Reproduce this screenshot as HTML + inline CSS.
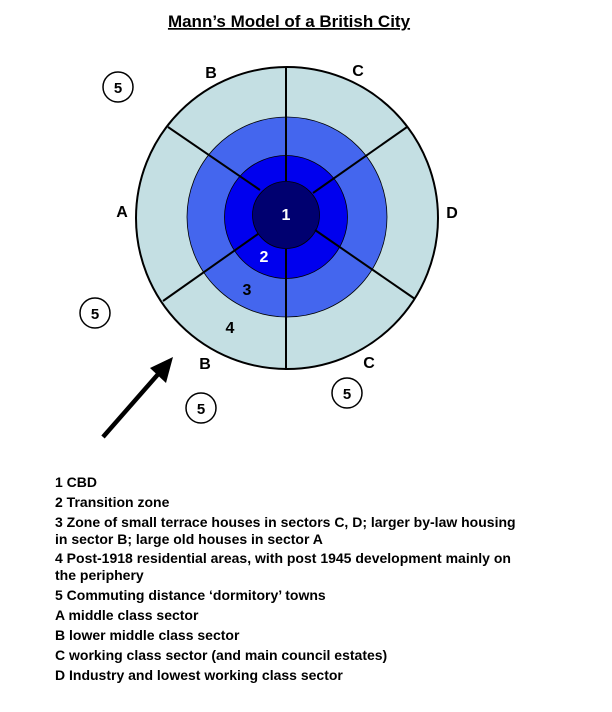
<!DOCTYPE html>
<html><head><style>
body{margin:0;background:#fff;width:612px;height:712px;overflow:hidden;font-family:"Liberation Sans",Arial,sans-serif}
.leg{position:absolute;left:55px;top:472px;font-size:14px;font-weight:bold;line-height:20px;color:#000;width:472px}
.leg div{margin:0}
.leg .two{line-height:17px;margin:2px 0 1px}
</style></head><body>
<svg width="612" height="712" style="position:absolute;left:0;top:0" font-family="Liberation Sans, Arial, sans-serif" font-weight="bold">
<text x="289" y="27" font-size="17" text-anchor="middle" text-decoration="underline">Mann’s Model of a British City</text>
<circle cx="287" cy="218" r="151" fill="#c4dfe3" stroke="#000" stroke-width="2"/>
<circle cx="287" cy="217" r="100" fill="#4466ee" stroke="#000" stroke-width="0.8"/>
<circle cx="286" cy="217" r="61.5" fill="#0000ee" stroke="#000" stroke-width="0.8"/>
<circle cx="286" cy="215" r="33.5" fill="#000070" stroke="#000" stroke-width="0.8"/>
<g stroke="#000" stroke-width="2">
<line x1="286" y1="67" x2="286" y2="181"/>
<line x1="286" y1="249" x2="286" y2="370"/>
<line x1="168" y1="127" x2="260" y2="190"/>
<line x1="407" y1="127" x2="313" y2="193"/>
<line x1="163" y1="301" x2="258" y2="234"/>
<line x1="415" y1="299" x2="315" y2="230"/>
</g>
<g font-size="16" text-anchor="middle">
<text x="286" y="220" fill="#fff">1</text>
<text x="264" y="262" fill="#fff">2</text>
<text x="247" y="295">3</text>
<text x="230" y="333">4</text>
<text x="211" y="78">B</text>
<text x="358" y="76">C</text>
<text x="122" y="217">A</text>
<text x="452" y="218">D</text>
<text x="205" y="369">B</text>
<text x="369" y="368">C</text>
</g>
<g fill="#fff" stroke="#000" stroke-width="1.5">
<circle cx="118" cy="87" r="15"/>
<circle cx="95" cy="313" r="15"/>
<circle cx="201" cy="408" r="15"/>
<circle cx="347" cy="393" r="15"/>
</g>
<g font-size="15" text-anchor="middle">
<text x="118" y="93">5</text>
<text x="95" y="319">5</text>
<text x="201" y="414">5</text>
<text x="347" y="399">5</text>
</g>
<line x1="103" y1="437" x2="160" y2="372" stroke="#000" stroke-width="4.5"/>
<polygon points="173,357 150,368 166,383" fill="#000"/>
</svg>
<div class="leg">
<div>1 CBD</div>
<div>2 Transition zone</div>
<div class="two">3 Zone of small terrace houses in sectors C, D; larger by-law housing in sector B; large old houses in sector A</div>
<div class="two">4 Post-1918 residential areas, with post 1945 development mainly on the periphery</div>
<div>5 Commuting distance ‘dormitory’ towns</div>
<div>A middle class sector</div>
<div>B lower middle class sector</div>
<div>C working class sector (and main council estates)</div>
<div>D Industry and lowest working class sector</div>
</div>
</body></html>
